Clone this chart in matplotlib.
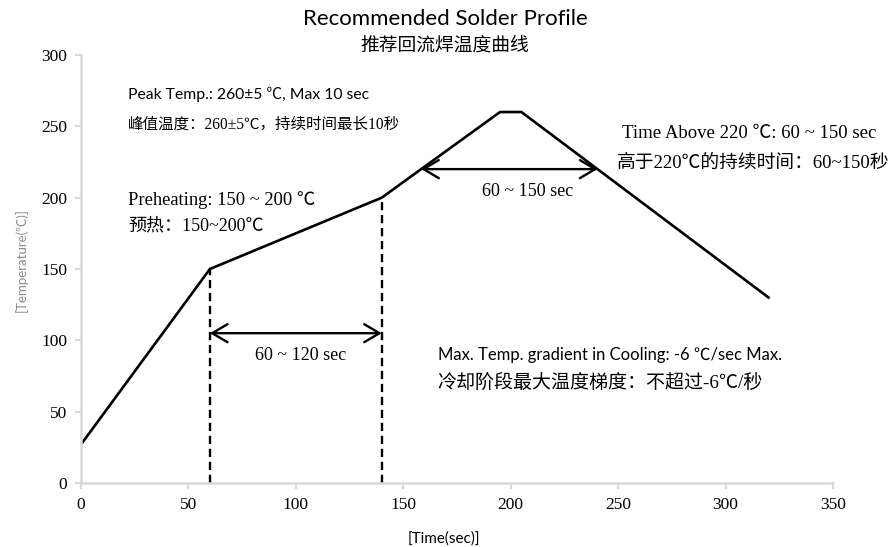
import numpy as np
import matplotlib
matplotlib.use('Agg')
import matplotlib.pyplot as plt

# ---------------------------------------------------------------------------
# profile data
time_s = [0, 60, 140, 195, 205, 320]
temp_c = [27, 150, 200, 260, 260, 130]

preheat_t = [60, 140]          # dashed markers
preheat_arrow_y = 105
liquidus_c = 220

x_ticks = [0, 50, 100, 150, 200, 250, 300, 350]
y_ticks = [0, 50, 100, 150, 200, 250, 300]

SERIF = ['Liberation Serif', 'Noto Sans CJK SC']
SANS = ['Lato', 'Noto Sans CJK SC']
CJK = ['Liberation Serif', 'Noto Sans CJK SC']
GRAY = '#d9d9d9'

# ---------------------------------------------------------------------------
fig = plt.figure(figsize=(8.91, 5.47), dpi=100)
ax = fig.add_axes([0.0909, 0.117, 0.844, 0.7825])

ax.plot(time_s, temp_c, color='black', lw=1.9, solid_joinstyle='miter')

for t in preheat_t:
    h = np.interp(t, time_s, temp_c)
    ax.plot([t, t], [0, h], color='black', lw=1.7, ls=(0, (3.5, 2.0)))

arrow = dict(arrowstyle='<->, head_length=1.1, head_width=0.65',
             color='black', lw=1.7, shrinkA=0, shrinkB=0)
ax.annotate('', xy=(preheat_t[0], preheat_arrow_y),
            xytext=(preheat_t[1], preheat_arrow_y), arrowprops=arrow)

# where the profile crosses 220 on the way up and down
t_up = np.interp(liquidus_c, temp_c[2:4], time_s[2:4])
t_dn = np.interp(liquidus_c, temp_c[4:6][::-1], time_s[4:6][::-1])
ax.annotate('', xy=(t_up, liquidus_c), xytext=(t_dn, liquidus_c),
            arrowprops=arrow)

# texts
ax.text(102, 89.7, '60 ~ 120 sec', ha='center', va='center', fontsize=13, family=SERIF)
ax.text(208, 204.6, '60 ~ 150 sec', ha='center', va='center', fontsize=13, family=SERIF)

ax.text(21.9, 272.6, 'Peak Temp.: 260±5 ℃, Max 10 sec', va='center', fontsize=11.3, family=SANS)
ax.text(21.9, 250.9, '峰值温度：260±5℃，持续时间最长10秒', va='center', fontsize=11.2, family=CJK)

ax.text(251.7, 245.3, 'Time Above 220 ℃: 60 ~ 150 sec', va='center', fontsize=13.5, family=SERIF)
ax.text(249.4, 224, '高于220℃的持续时间：60~150秒', va='center', fontsize=13.5, family=CJK)

ax.text(21.9, 198.3, 'Preheating: 150 ~ 200 ℃', va='center', fontsize=13.3, family=SERIF)
ax.text(21.9, 180, '预热：150~200℃', va='center', fontsize=13, family=CJK)

ax.text(166, 89.7, 'Max. Temp. gradient in Cooling: -6 ℃/sec Max.', va='center',
        fontsize=12, family=SANS)
ax.text(166, 70, '冷却阶段最大温度梯度：不超过-6℃/秒', va='center', fontsize=13.7, family=CJK)

fig.text(0.4994, 0.965, 'Recommended Solder Profile', ha='center', va='center',
         fontsize=16, family=SANS)
fig.text(0.4994, 0.917, '推荐回流焊温度曲线', ha='center', va='center',
         fontsize=13.5, family=CJK)

ax.set_xlabel('[Time(sec)]', fontsize=11, family=SANS)
ax.xaxis.set_label_coords(0.483, -0.114)
ax.set_ylabel('[Temperature(℃)]', fontsize=9.5, family=SANS, color='#8c8c8c')
ax.yaxis.set_label_coords(-0.071, 0.52)

# axes
ax.set_xlim(0, 350)
ax.set_ylim(0, 300)
ax.set_xticks(x_ticks)
ax.set_yticks(y_ticks)
for lab in ax.get_xticklabels() + ax.get_yticklabels():
    lab.set_family(SERIF)
    lab.set_fontsize(12.5)
ax.tick_params(direction='out', length=4, width=1.5, color=GRAY, pad=6)
for side in ['top', 'right']:
    ax.spines[side].set_visible(False)
for side in ['left', 'bottom']:
    ax.spines[side].set_color(GRAY)
    ax.spines[side].set_linewidth(1.8)

fig.savefig('out.png', dpi=100)
